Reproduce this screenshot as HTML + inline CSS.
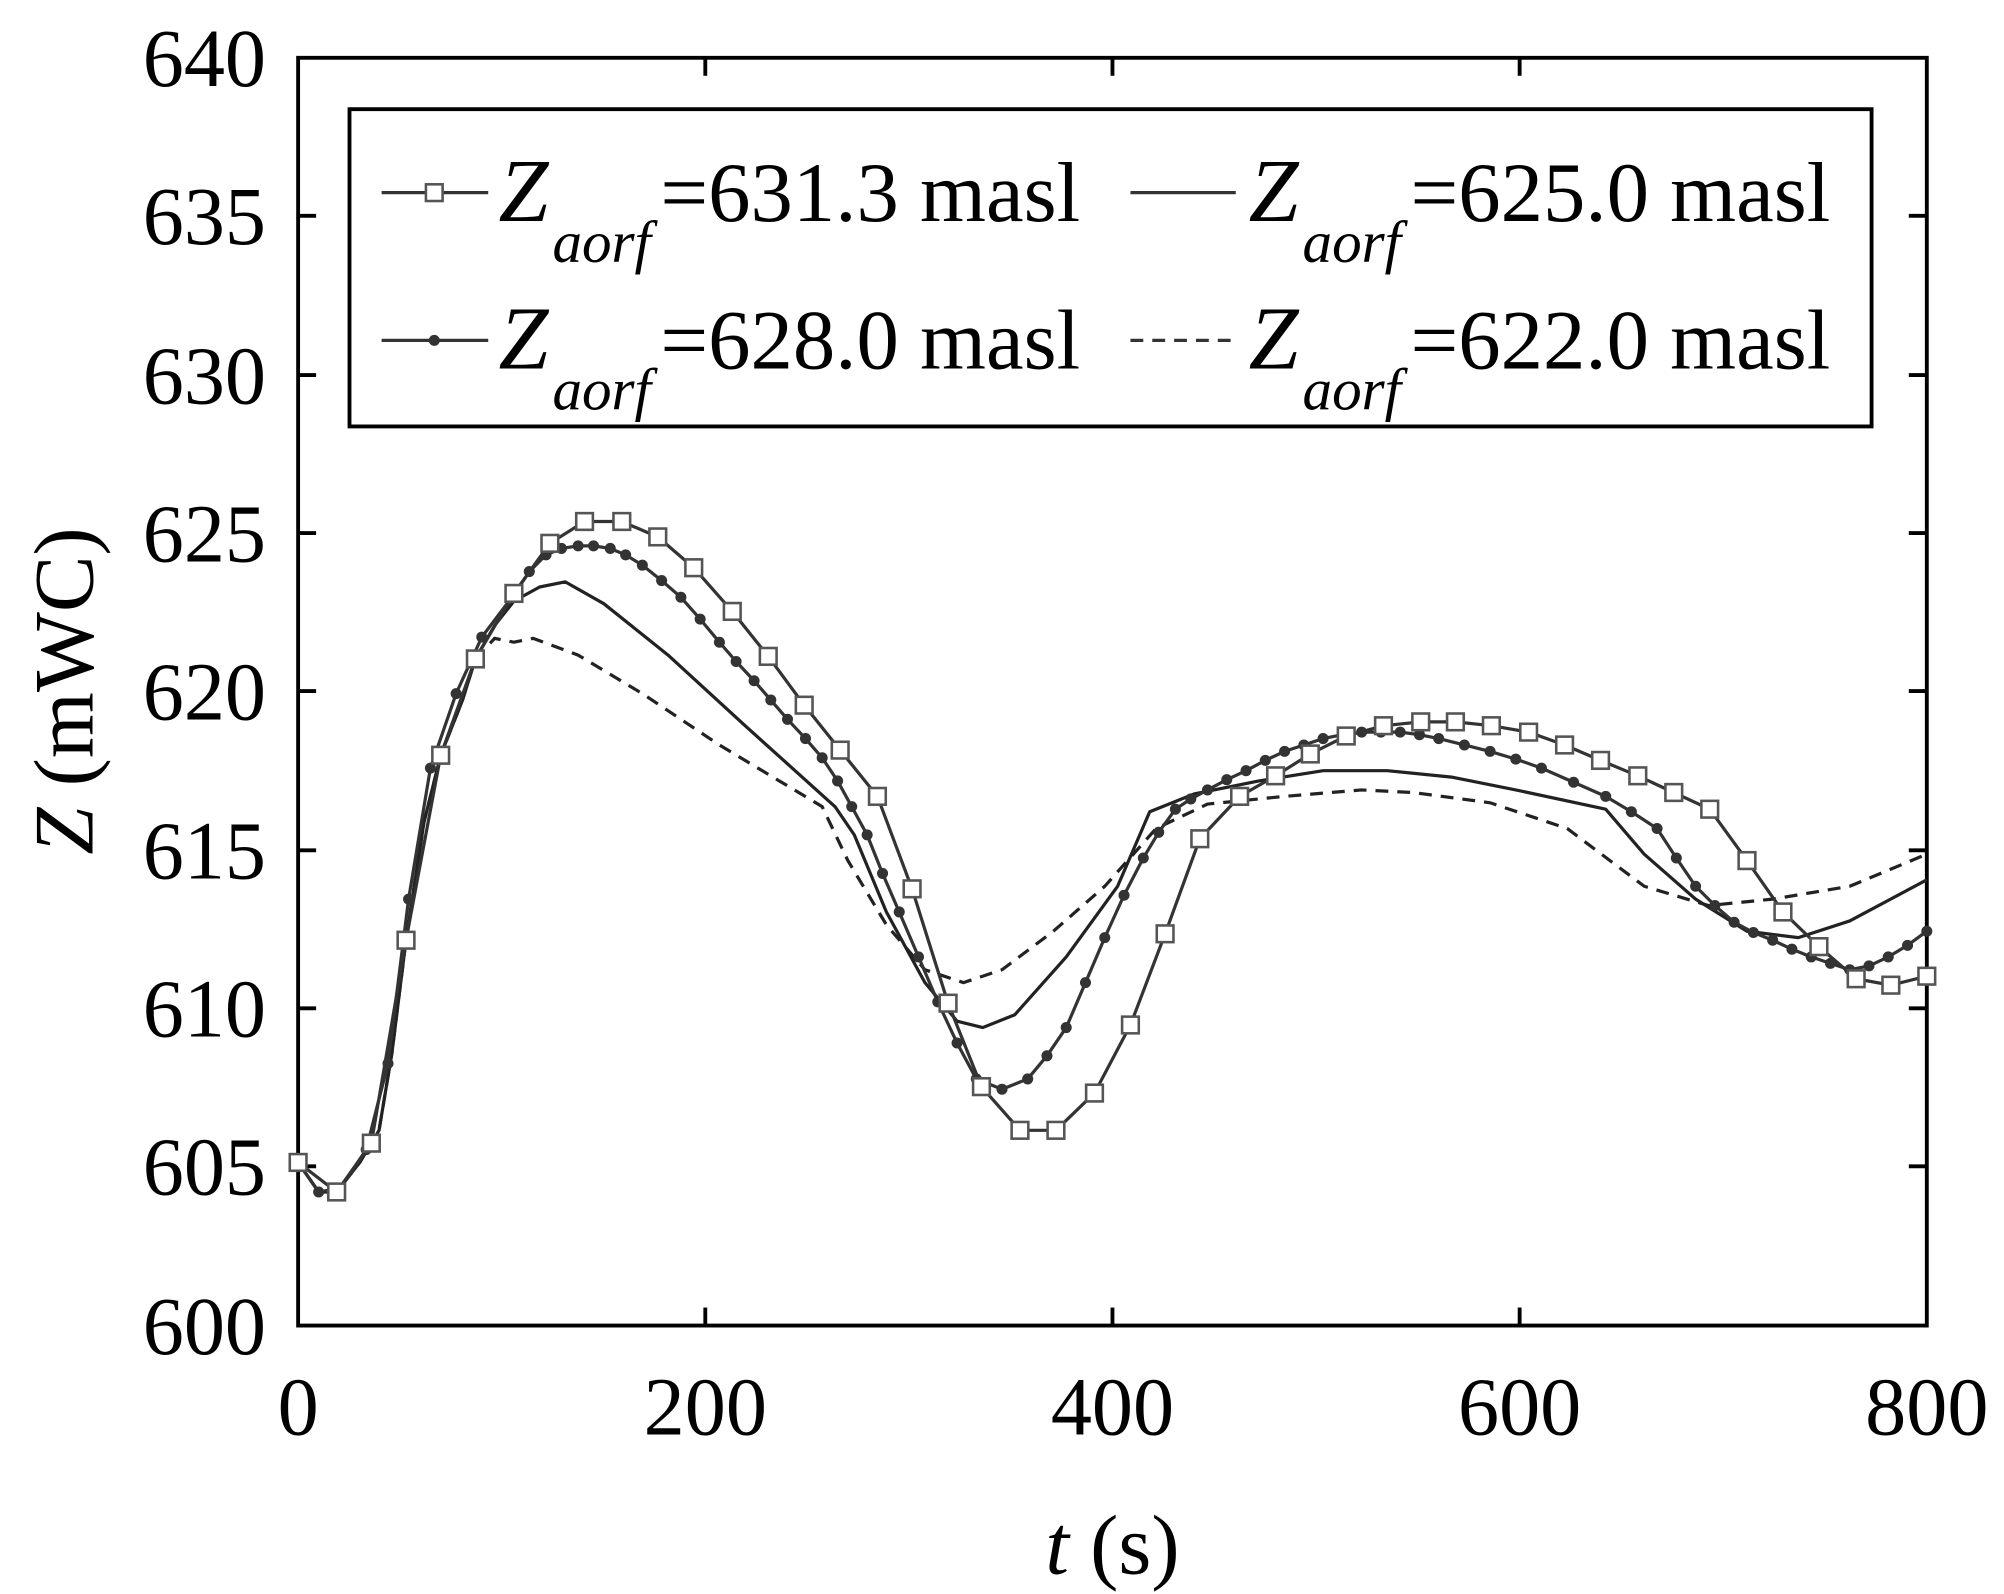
<!DOCTYPE html>
<html><head><meta charset="utf-8"><style>html,body{margin:0;padding:0;background:#fff}svg{display:block}</style></head>
<body>
<svg width="2004" height="1594" viewBox="0 0 1560 1241" xmlns="http://www.w3.org/2000/svg" font-family="'Liberation Serif', serif" fill="#000">
<defs>
<marker id="sq" viewBox="-8 -8 16 16" markerWidth="16" markerHeight="16" markerUnits="userSpaceOnUse"><rect x="-6.5" y="-6.5" width="13" height="13" fill="#fff" stroke="#555" stroke-width="2"/></marker>
<marker id="dt" viewBox="-5 -5 10 10" markerWidth="10" markerHeight="10" markerUnits="userSpaceOnUse"><circle r="4.3" fill="#333"/></marker>
</defs>
<rect x="232" y="45" width="1268" height="987" fill="none" stroke="#000" stroke-width="3"/>
<g stroke="#000" stroke-width="3">
<line x1="549" y1="1032" x2="549" y2="1018"/><line x1="866" y1="1032" x2="866" y2="1018"/><line x1="1183" y1="1032" x2="1183" y2="1018"/>
<line x1="549" y1="45" x2="549" y2="59"/><line x1="866" y1="45" x2="866" y2="59"/><line x1="1183" y1="45" x2="1183" y2="59"/>
<line x1="232" y1="168" x2="246" y2="168"/><line x1="232" y1="292" x2="246" y2="292"/><line x1="232" y1="415" x2="246" y2="415"/><line x1="232" y1="538" x2="246" y2="538"/><line x1="232" y1="662" x2="246" y2="662"/><line x1="232" y1="785" x2="246" y2="785"/><line x1="232" y1="908" x2="246" y2="908"/>
<line x1="1500" y1="168" x2="1486" y2="168"/><line x1="1500" y1="292" x2="1486" y2="292"/><line x1="1500" y1="415" x2="1486" y2="415"/><line x1="1500" y1="538" x2="1486" y2="538"/><line x1="1500" y1="662" x2="1486" y2="662"/><line x1="1500" y1="785" x2="1486" y2="785"/><line x1="1500" y1="908" x2="1486" y2="908"/>
</g>
<g font-size="64" text-anchor="end">
<text x="207" y="67">640</text><text x="207" y="190">635</text><text x="207" y="314">630</text><text x="207" y="437">625</text><text x="207" y="560">620</text><text x="207" y="684">615</text><text x="207" y="807">610</text><text x="207" y="930">605</text><text x="207" y="1054">600</text>
</g>
<g font-size="64" text-anchor="middle">
<text x="232" y="1117">0</text><text x="549" y="1117">200</text><text x="866" y="1117">400</text><text x="1183" y="1117">600</text><text x="1500" y="1117">800</text>
</g>
<text x="866" y="1225" font-size="66" text-anchor="middle"><tspan font-style="italic">t</tspan> (s)</text>
<text transform="translate(72,538) rotate(-90)" font-size="66" text-anchor="middle"><tspan font-style="italic">Z</tspan> (mWC)</text>

<g fill="none" stroke-linejoin="round">
<polyline stroke="#222" stroke-width="2.5" stroke-dasharray="10,7" points="232,905 248,928 262,928 280,905 295,880 305,820 316,732 330,640 343,588 360,545 370,513 385,497 400,500 415,497 450,510 500,540 560,580 640,628 660,670 690,720 720,755 750,765 780,755 820,725 860,690 900,645 940,626 1000,620 1060,615 1100,617 1160,625 1220,645 1280,690 1330,705 1380,700 1440,690 1500,665"/>
<polyline stroke="#222" stroke-width="2.5" points="232,905 248,928 262,928 280,905 295,880 305,820 316,732 330,640 343,588 360,545 370,513 385,487 400,468 420,457 440,453 470,470 520,510 580,565 650,628 665,650 690,710 720,765 745,795 765,800 790,790 830,745 870,690 895,632 930,618 980,608 1030,600 1080,600 1130,605 1180,615 1250,630 1280,665 1320,700 1360,725 1400,730 1440,717 1500,685"/>
<polyline stroke="#333" stroke-width="2.5" marker-start="url(#dt)" marker-mid="url(#dt)" marker-end="url(#dt)" points="232,905 248,928 265,925 285,895 302,828 318,700 335,598 355,540 375,496 400,463 412,445 425,432 437,427 450,425 462,425 475,427 487,432 500,440 515,452 530,465 545,482 560,500 573,515 587,530 600,545 613,560 627,575 640,590 652,608 663,628 675,650 687,680 700,710 715,745 730,780 745,812 760,840 780,848 800,840 815,822 830,800 845,765 860,730 875,697 890,668 902,648 915,630 927,622 940,615 955,607 970,600 985,592 1000,585 1015,580 1030,575 1045,572 1060,570 1075,570 1090,570 1105,572 1120,575 1140,580 1160,585 1180,591 1200,598 1225,609 1250,620 1270,632 1290,645 1305,668 1320,690 1335,705 1350,718 1365,726 1380,732 1395,739 1410,745 1425,750 1440,755 1455,752 1470,745 1485,736 1500,725"/>
<polyline stroke="#333" stroke-width="2.5" marker-start="url(#sq)" marker-mid="url(#sq)" marker-end="url(#sq)" points="232,905 262,928 289,890 316,732 343,588 370,513 400,462 428,423 455,406 484,406 512,418 540,442 570,476 598,511 626,549 654,584 683,620 710,692 738,781 764,846 794,880 822,880 852,851 880,798 907,727 934,653 965,620 993,604 1020,587 1048,573 1077,565 1106,562 1133,562 1161,565 1190,570 1218,580 1246,592 1275,604 1303,617 1331,630 1360,670 1388,710 1416,737 1445,762 1472,767 1500,760"/>
</g>

<rect x="272" y="85" width="1185" height="247" fill="#fff" stroke="#000" stroke-width="3"/>
<g fill="none" stroke="#333" stroke-width="2.5">
<polyline points="297,150 338,150 380,150" marker-mid="url(#sq)"/>
<polyline points="297,265 338,265 380,265" marker-mid="url(#dt)"/>
<line x1="880" y1="150" x2="962" y2="150"/>
<line x1="880" y1="265" x2="962" y2="265" stroke-dasharray="10,7"/>
</g>
<g font-size="66">
<text x="388" y="172" font-style="italic" font-size="70">Z</text><text x="430" y="204" font-style="italic" font-size="46">aorf</text><text x="514" y="172">=631.3 masl</text>
<text x="388" y="287" font-style="italic" font-size="70">Z</text><text x="430" y="319" font-style="italic" font-size="46">aorf</text><text x="514" y="287">=628.0 masl</text>
<text x="972" y="172" font-style="italic" font-size="70">Z</text><text x="1014" y="204" font-style="italic" font-size="46">aorf</text><text x="1098" y="172">=625.0 masl</text>
<text x="972" y="287" font-style="italic" font-size="70">Z</text><text x="1014" y="319" font-style="italic" font-size="46">aorf</text><text x="1098" y="287">=622.0 masl</text>
</g>
</svg>
</body></html>
